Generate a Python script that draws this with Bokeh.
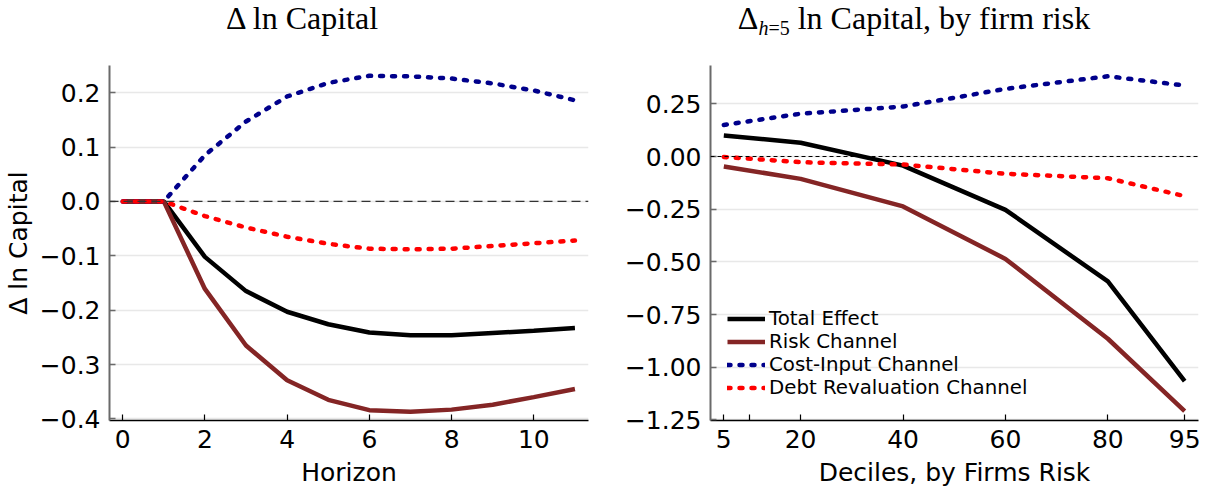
from bokeh.plotting import figure
from bokeh.layouts import row, column
from bokeh.models import Span, FixedTicker, Legend, LegendItem, Div
from bokeh.embed import file_html
from bokeh.resources import INLINE

# ---------------- data ----------------
horizon = list(range(12))
total_h = [0, 0, -0.102, -0.165, -0.203, -0.226, -0.241, -0.246, -0.246, -0.242, -0.238, -0.233]
risk_h = [0, 0, -0.161, -0.265, -0.329, -0.365, -0.384, -0.387, -0.383, -0.374, -0.360, -0.345]
cost_h = [0, 0, 0.085, 0.147, 0.193, 0.218, 0.231, 0.230, 0.226, 0.217, 0.204, 0.186]
debt_h = [0, 0, -0.027, -0.048, -0.065, -0.078, -0.087, -0.088, -0.087, -0.082, -0.077, -0.072]

deciles = [5, 20, 40, 60, 80, 95]
total_d = [0.100, 0.065, -0.043, -0.253, -0.593, -1.066]
risk_d = [-0.047, -0.106, -0.237, -0.486, -0.865, -1.209]
cost_d = [0.150, 0.203, 0.237, 0.321, 0.381, 0.337]
debt_d = [-0.002, -0.027, -0.038, -0.082, -0.103, -0.188]

series_names = ["Total Effect", "Risk Channel", "Cost-Input Channel", "Debt Revaluation Channel"]

left_title = "\u0394 ln Capital"
right_title_html = ("\u0394<sub style='font-size:20px;vertical-align:-6px;font-style:normal'>"
                    "<i>h</i>=5</sub> ln Capital, by firm risk")

left_xticks = [0, 2, 4, 6, 8, 10]
left_yticks = [-0.4, -0.3, -0.2, -0.1, 0.0, 0.1, 0.2]
right_xticks = [5, 10, 20, 40, 60, 80, 95]
right_xlabels = ["5", "", "20", "40", "60", "80", "95"]
right_yticks = [-1.25, -1.0, -0.75, -0.5, -0.25, 0.0, 0.25]

# ---------------- styles ----------------
BLACK = "#000000"
BROWN = "#842525"
BLUE = "#00008B"
RED = "#FF0000"
TICK_FONT = "25px"
SANS = "DejaVu Sans"
SERIF = "Liberation Serif"
TITLE_H = 36


def fmt(v, nd):
    s = f"{abs(v):.{nd}f}"
    return ("\u2212" + s) if v < 0 else s


def style(p, xticks, yticks, ylabels, xlabels=None):
    p.outline_line_color = None
    p.xgrid.grid_line_color = None
    p.ygrid.grid_line_color = "#e8e8e8"
    p.ygrid.grid_line_width = 1.5
    p.xaxis.ticker = FixedTicker(ticks=xticks)
    p.yaxis.ticker = FixedTicker(ticks=yticks)
    p.yaxis.major_label_overrides = {t: l for t, l in zip(yticks, ylabels)}
    if xlabels is not None:
        p.xaxis.major_label_overrides = {t: l for t, l in zip(xticks, xlabels)}
    for ax in (p.xaxis[0], p.yaxis[0]):
        ax.major_tick_in = 6
        ax.major_tick_out = 0
        ax.minor_tick_line_color = None
        ax.major_label_text_font = SANS
        ax.major_label_text_font_size = TICK_FONT
        ax.major_label_text_color = "black"
        ax.axis_label_text_font = SANS
        ax.axis_label_text_font_size = "25px"
        ax.axis_label_text_font_style = "normal"
        ax.axis_label_text_color = "black"
    p.yaxis.axis_line_color = "#6a6a6a"
    p.yaxis.axis_line_width = 2
    p.yaxis.major_tick_line_color = "#6a6a6a"
    p.yaxis.major_tick_line_width = 1.5
    p.xaxis.axis_line_color = "black"
    p.xaxis.axis_line_width = 1.5
    p.xaxis.major_tick_line_color = "black"
    p.xaxis.major_tick_line_width = 1.2
    p.yaxis.major_label_standoff = 9
    p.xaxis.major_label_standoff = 9
    p.xaxis.axis_label_standoff = 7


def title_div(html, width, left_pad):
    return Div(text=html, width=width - left_pad, height=TITLE_H, margin=(0, 0, 0, left_pad),
               styles={"font-family": SERIF, "font-size": "32px", "line-height": f"{TITLE_H}px",
                       "text-align": "center", "color": "black", "white-space": "nowrap"})


# ---------------- left panel ----------------
p1 = figure(frame_width=479, frame_height=355, x_range=(-0.32, 11.33), y_range=(-0.403, 0.25),
            min_border_left=109, min_border_right=16, min_border_top=29, min_border_bottom=20,
            output_backend="svg", toolbar_location=None, margin=0)
style(p1, left_xticks, left_yticks, [fmt(v, 1) for v in left_yticks])
p1.xaxis.axis_label = "Horizon"
p1.yaxis.axis_label = "\u0394 ln Capital"
p1.yaxis.axis_label_standoff = 4
p1.add_layout(Span(location=0, dimension="width", line_color="#333333", line_width=1.3,
                   line_dash="9 5"))
p1.line(horizon, total_h, line_color=BLACK, line_width=4.5)
p1.line(horizon, risk_h, line_color=BROWN, line_width=4.5)
p1.line(horizon, cost_h, line_color=BLUE, line_width=4.5, line_dash="3 9", line_cap="round")
p1.line(horizon, debt_h, line_color=RED, line_width=4.5, line_dash="3 9", line_cap="round")

# ---------------- right panel ----------------
p2 = figure(frame_width=488, frame_height=355, x_range=(2.4, 97.7), y_range=(-1.253, 0.432),
            min_border_left=106, min_border_right=8, min_border_top=29, min_border_bottom=20,
            output_backend="svg", toolbar_location=None, margin=0)
style(p2, right_xticks, right_yticks, [fmt(v, 2) for v in right_yticks], right_xlabels)
p2.xaxis.axis_label = "Deciles, by Firms Risk"
p2.add_layout(Span(location=0, dimension="width", line_color="black", line_width=1,
                   line_dash="4 3"))
r1 = p2.line(deciles, total_d, line_color=BLACK, line_width=4.5)
r2 = p2.line(deciles, risk_d, line_color=BROWN, line_width=4.5)
r3 = p2.line(deciles, cost_d, line_color=BLUE, line_width=4.5, line_dash="3 9", line_cap="round")
r4 = p2.line(deciles, debt_d, line_color=RED, line_width=4.5, line_dash="3 9", line_cap="round")

legend = Legend(items=[LegendItem(label=n, renderers=[r]) for n, r in zip(series_names, [r1, r2, r3, r4])],
                location=(17, 21), padding=0, margin=0, spacing=0,
                label_height=21, glyph_height=21, glyph_width=38, label_standoff=4,
                label_text_font=SANS, label_text_font_size="19.8px", label_text_color="black",
                background_fill_alpha=0, border_line_alpha=0)
p2.add_layout(legend)

d1 = title_div(left_title, 604, 0)
d2 = title_div(right_title_html, 602, 18)

layout = row(column(d1, p1, spacing=0), column(d2, p2, spacing=0), spacing=0)
open("out.html", "w").write(file_html(layout, INLINE))
